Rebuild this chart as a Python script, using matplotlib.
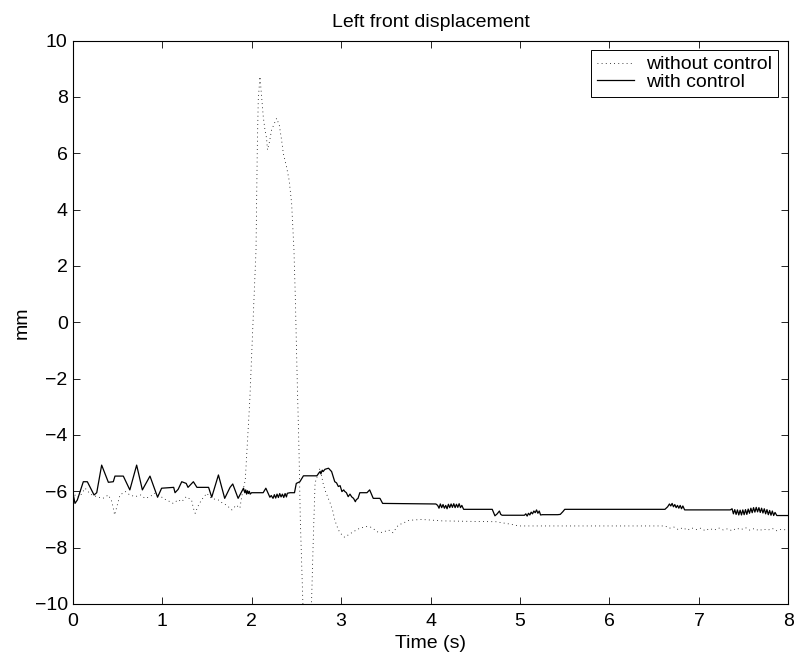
import matplotlib
matplotlib.use("Agg")
import matplotlib.pyplot as plt

# ---- data: with control (solid) ----
t_with = [0, 0.027, 0.053, 0.12, 0.165, 0.24, 0.27, 0.325, 0.40, 0.455, 0.474, 0.567, 0.64, 0.716,
          0.78, 0.865, 0.95, 0.995, 1.13, 1.145, 1.18, 1.22, 1.27, 1.29, 1.35, 1.39, 1.52, 1.555,
          1.63, 1.70, 1.76, 1.79, 1.85, 1.90,
          1.91, 1.925, 1.935, 1.945, 1.955, 1.965, 1.975, 1.985, 2.0, 2.13, 2.16, 2.205, 2.22, 2.24,
          2.255, 2.27, 2.285, 2.30, 2.315, 2.33, 2.345, 2.36, 2.375, 2.39, 2.40, 2.43, 2.48, 2.50,
          2.54, 2.58, 2.73, 2.765, 2.775, 2.79, 2.80, 2.82, 2.86, 2.88, 2.895, 2.93, 2.95, 2.97,
          2.99, 3.01, 3.03, 3.04, 3.06, 3.08, 3.10, 3.12, 3.14, 3.16, 3.17, 3.19, 3.21, 3.29, 3.32,
          3.36, 3.435, 3.465, 4.06,
          4.08, 4.095, 4.11, 4.125, 4.14, 4.155, 4.17, 4.185, 4.20, 4.215, 4.23, 4.245, 4.26, 4.275,
          4.29, 4.305, 4.32, 4.335, 4.35, 4.37, 4.69, 4.72, 4.745, 4.77, 4.785, 4.80, 5.05, 5.065,
          5.08, 5.095, 5.11, 5.125, 5.14, 5.155, 5.17, 5.185, 5.20, 5.215, 5.23, 5.25, 5.42, 5.45,
          5.48, 5.50, 6.62, 6.65, 6.67, 6.685, 6.70, 6.715, 6.73, 6.745, 6.76, 6.775, 6.79, 6.805,
          6.82, 6.84, 7.35,
          7.37, 7.385, 7.40, 7.415, 7.43, 7.445, 7.46, 7.475, 7.49, 7.505, 7.52, 7.535, 7.55, 7.565,
          7.58, 7.595, 7.61, 7.625, 7.64, 7.655, 7.67, 7.685, 7.70, 7.715, 7.73, 7.745, 7.76, 7.775,
          7.79, 7.805, 7.82, 7.835, 7.85, 7.87, 8.0]
y_with = [-6.0, -6.43, -6.31, -5.66, -5.66, -6.13, -6.05, -5.07, -5.68, -5.66, -5.46, -5.46, -5.95, -5.07,
          -5.95, -5.46, -6.21, -5.89, -5.86, -6.05, -5.93, -5.66, -5.72, -5.86, -5.66, -5.86, -5.86, -6.21,
          -5.42, -6.25, -5.86, -5.74, -6.25, -5.95,
          -5.89, -6.05, -5.95, -6.10, -5.98, -6.08, -6.0, -6.10, -6.05, -6.05, -5.89, -6.21, -6.15, -6.25,
          -6.12, -6.24, -6.10, -6.22, -6.08, -6.20, -6.10, -6.22, -6.08, -6.20, -6.07, -6.05, -6.05, -5.72,
          -5.66, -5.45, -5.45, -5.30, -5.38, -5.25, -5.30, -5.22, -5.18, -5.25, -5.30, -5.66, -5.70, -5.83,
          -5.80, -6.01, -5.95, -6.0, -6.05, -6.19, -6.10, -6.20, -6.25, -6.37, -6.30, -6.25, -6.05, -6.05, -5.95,
          -6.25, -6.25, -6.43, -6.45,
          -6.50, -6.60, -6.45, -6.58, -6.47, -6.60, -6.50, -6.62, -6.46, -6.58, -6.45, -6.57, -6.44, -6.58,
          -6.46, -6.57, -6.44, -6.58, -6.50, -6.64, -6.64, -6.87, -6.80, -6.70, -6.82, -6.85, -6.85, -6.80,
          -6.88, -6.78, -6.84, -6.74, -6.80, -6.70, -6.76, -6.66, -6.78, -6.70, -6.84, -6.83, -6.83, -6.82,
          -6.72, -6.64, -6.64, -6.55, -6.45, -6.52, -6.43, -6.55, -6.47, -6.58, -6.50, -6.60, -6.50, -6.62,
          -6.52, -6.66, -6.66,
          -6.62, -6.80, -6.65, -6.82, -6.66, -6.84, -6.67, -6.84, -6.66, -6.83, -6.65, -6.82, -6.63, -6.78,
          -6.60, -6.76, -6.58, -6.74, -6.57, -6.73, -6.58, -6.75, -6.60, -6.77, -6.62, -6.80, -6.65, -6.83,
          -6.68, -6.85, -6.70, -6.86, -6.75, -6.86, -6.86]

# ---- data: without control (dotted) ----
t_without = [0, 0.04, 0.08, 0.14, 0.20, 0.27, 0.34, 0.40, 0.44, 0.455, 0.47, 0.49, 0.53, 0.59, 0.64,
             0.70, 0.76, 0.81, 0.86, 0.92, 0.98, 1.01, 1.09, 1.125, 1.18, 1.22, 1.27, 1.33, 1.35, 1.37,
             1.40, 1.44, 1.50, 1.55, 1.63, 1.68, 1.72, 1.78, 1.83, 1.87, 1.89, 1.91, 1.93, 1.95, 1.98,
             2.027, 2.05, 2.057, 2.064, 2.075, 2.094, 2.131, 2.15, 2.168, 2.178, 2.20, 2.224, 2.28,
             2.31, 2.336, 2.355, 2.39, 2.42, 2.448, 2.459, 2.474, 2.485, 2.489, 2.51, 2.53, 2.545,
             2.574, 2.62, 2.67, 2.69, 2.71, 2.765, 2.80, 2.82, 2.88, 2.91, 2.93, 2.95, 2.97, 3.01,
             3.04, 3.08, 3.14, 3.21, 3.29, 3.33, 3.38, 3.42, 3.47, 3.53, 3.58, 3.64, 3.70, 3.76, 3.90,
             4.00, 4.13, 4.30, 4.50, 4.73, 4.88, 4.99, 6.62,
             6.67, 6.72, 6.77, 6.82, 6.87, 6.92, 6.97, 7.02, 7.07, 7.12, 7.17, 7.22, 7.27, 7.32, 7.37,
             7.42, 7.47, 7.52, 7.57, 7.62, 7.67, 7.72, 7.77, 7.82, 7.87, 7.92, 8.0]
y_without = [-6.0, -6.2, -6.19, -5.89, -6.10, -6.19, -6.25, -6.13, -6.37, -6.60, -6.84, -6.60, -6.13, -6.01, -6.13,
             -6.19, -6.13, -6.25, -6.20, -6.07, -6.15, -6.25, -6.37, -6.43, -6.30, -6.37, -6.19, -6.31, -6.60, -6.78,
             -6.54, -6.31, -6.07, -6.25, -6.31, -6.43, -6.49, -6.66, -6.49, -6.60, -6.19, -5.89, -5.60, -4.50, -2.80,
             0.80, 2.57, 4.34, 6.12, 7.89, 8.72, 7.30, 6.83, 6.53, 6.12, 6.40, 6.83, 7.24,
             7.00, 6.47, 6.00, 5.53, 5.05, 4.22, 3.51, 2.57, 1.38, 0.91, -2.0, -4.5, -7.0,
             -10.0, -11.5, -10.0, -7.7, -5.7, -5.18, -5.72, -5.95, -6.43, -6.72, -7.02, -7.20, -7.37, -7.55,
             -7.63, -7.55, -7.43, -7.31, -7.25, -7.27, -7.37, -7.47, -7.45, -7.37, -7.47, -7.20, -7.12, -7.03, -7.0,
             -7.02, -7.05, -7.06, -7.07, -7.08, -7.16, -7.23, -7.23,
             -7.31, -7.27, -7.36, -7.29, -7.38, -7.30, -7.36, -7.31, -7.40, -7.32, -7.38, -7.30, -7.37, -7.33, -7.40,
             -7.31, -7.36, -7.29, -7.38, -7.32, -7.40, -7.34, -7.38, -7.32, -7.40, -7.35, -7.38]

x_ticks = [0, 1, 2, 3, 4, 5, 6, 7, 8]
y_ticks = [-10, -8, -6, -4, -2, 0, 2, 4, 6, 8, 10]
y_tick_labels = ["\u221210", "\u22128", "\u22126", "\u22124", "\u22122", "0", "2", "4", "6", "8", "10"]
labels = ["without control", "with control"]

plt.rcParams["font.family"] = ["Liberation Sans", "DejaVu Sans"]
plt.rcParams["font.size"] = 14

fig = plt.figure(figsize=(7.94, 6.58), dpi=100)
ax = fig.add_axes([0.0914, 0.0821, 0.9016, 0.8562])

ax.plot(t_without, y_without, color="black", linewidth=0.6, linestyle=(0, (1, 4)), label=labels[0])
ax.plot(t_with, y_with, color="black", linewidth=0.9, linestyle="-", label=labels[1])

ax.set_xlim(0, 8)
ax.set_ylim(-10, 10)
ax.set_xticks(x_ticks)
ax.set_yticks(y_ticks)
ax.set_yticklabels(y_tick_labels)
ax.tick_params(direction="in", length=5, width=0.6, top=True, right=True, labelsize=14)
ax.tick_params(axis="x", pad=6.5)
ax.tick_params(axis="y", pad=3.5)
for s in ax.spines.values():
    s.set_linewidth(0.8)

ax.set_title("Left front displacement", fontsize=14, pad=10)
ax.set_xlabel("Time (s)", fontsize=14, labelpad=3.5)
ax.set_ylabel("mm", fontsize=14, labelpad=3)

leg = ax.legend(loc="upper right", bbox_to_anchor=(0.9853, 0.9833), borderaxespad=0,
                fancybox=False, framealpha=1, edgecolor="black", fontsize=14,
                handlelength=1.9, handletextpad=0.62, labelspacing=0.0, borderpad=0.3)
leg.get_frame().set_linewidth(0.7)

fig.savefig("out.png", dpi=100)
